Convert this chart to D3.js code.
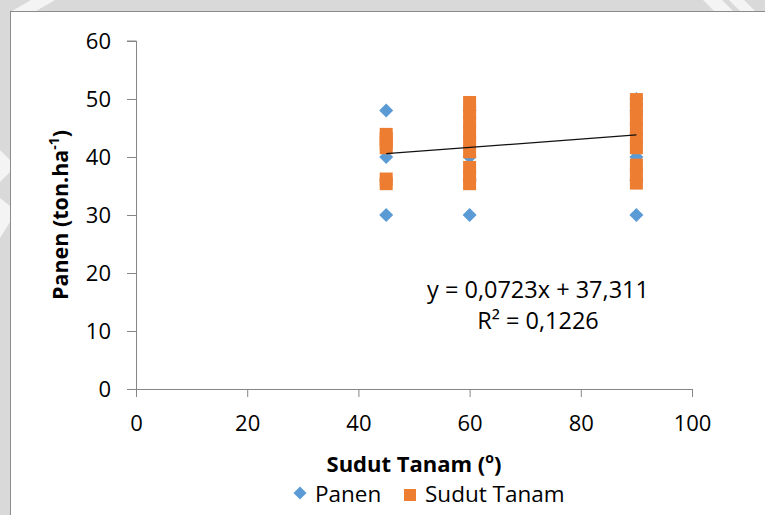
<!DOCTYPE html>
<html>
<head>
<meta charset="utf-8">
<script src="https://cdn.jsdelivr.net/npm/d3@7"></script>
<style>
  body { margin: 0; background: #d9d9d9; }
  text { font-family: "Open Sans", sans-serif; fill: #000; }
</style>
</head>
<body>
<div class="grafico"></div>
<script>
/* Data */
const panenX = [45, 45, 45, 45, 60, 60, 60, 60, 90, 90, 90, 90, 90];
const panenY = [48, 40, 36, 30, 48, 40, 36, 30, 50, 48, 40, 36, 30];

const sudutX = [45, 45, 45, 45, 45, 45,
  60, 60, 60, 60, 60, 60, 60, 60, 60,
  90, 90, 90, 90, 90, 90, 90, 90, 90];
const sudutY = [41.6, 42.4, 43.2, 43.9, 35.4, 36.2,
  40.9, 42.6, 44.3, 46.0, 47.7, 49.4, 35.4, 36.8, 38.2,
  41.6, 43.2, 44.9, 46.5, 48.2, 49.9, 35.5, 37.0, 38.6];

const xTicks = [0, 20, 40, 60, 80, 100];
const yTicks = [0, 10, 20, 30, 40, 50, 60];

const trendSlope = 0.0723;
const trendIntercept = 37.311;
const trendFrom = 45;
const trendTo = 90;
const trendLines = ['y = 0,0723x + 37,311', 'R² = 0,1226'];

const seriesNames = ['Panen', 'Sudut Tanam'];
const colors = ['#5b9bd5', '#ed7d31'];

const w = 765;
const h = 515;

const svg = d3.select('.grafico')
  .append('svg')
  .attr('width', w)
  .attr('height', h)
  .style('display', 'block');

/* grey page with the white watermark stripes */
svg.append('rect').attr('width', w).attr('height', h).attr('fill', '#d9d9d9');
const stripes = [
  [[31, 0], [55, 0], [36, 11], [12, 11]],
  [[0, 150], [10, 160], [10, 172], [0, 182]],
  [[0, 198], [10, 206], [10, 222], [0, 238]],
  [[703, 0], [722, 0], [733, 11], [714, 11]],
  [[729, 0], [744, 0], [755, 11], [740, 11]]
];
svg.selectAll('.stripe')
  .data(stripes)
  .join('polygon')
  .attr('class', 'stripe')
  .attr('points', d => d.join(' '))
  .attr('fill', '#f4f4f4');

/* chart box */
svg.append('rect')
  .attr('x', 10.5)
  .attr('y', 11.5)
  .attr('width', 800)
  .attr('height', 600)
  .attr('fill', '#fff')
  .attr('stroke', '#8c8c8c');

/* scales */
const x = d3.scaleLinear().domain([0, 100]).range([136, 692]);
const y = d3.scaleLinear().domain([0, 60]).range([389, 41]);

/* axes */
const xAxis = svg.append('g')
  .attr('transform', `translate(0,${y(0)})`)
  .call(d3.axisBottom(x).tickValues(xTicks).tickSize(8).tickPadding(18));

const yAxis = svg.append('g')
  .attr('transform', `translate(${x(0)},0)`)
  .call(d3.axisLeft(y).tickValues(yTicks).tickSize(9).tickPadding(16));

[xAxis, yAxis].forEach(a => {
  a.select('.domain').attr('stroke', '#868686');
  a.selectAll('.tick line').attr('stroke', '#868686');
  a.selectAll('.tick text')
    .style('font-family', '"Open Sans", sans-serif')
    .style('font-size', '22px')
    .attr('fill', '#1a1a1a');
});
yAxis.selectAll('.tick text').attr('dy', '0.35em');
yAxis.select('.domain').attr('d', `M-9,${y(60)}H0.5V${y(0)}`);

/* Panen diamonds */
const panen = panenX.map((d, i) => ({x: d, y: panenY[i]}));
svg.append('g')
  .selectAll('path')
  .data(panen)
  .join('path')
  .attr('d', 'M0,-7L7,0L0,7L-7,0Z')
  .attr('transform', d => `translate(${x(d.x)},${y(d.y)})`)
  .attr('fill', colors[0]);

/* Sudut Tanam squares */
const sudut = sudutX.map((d, i) => ({x: d, y: sudutY[i]}));
svg.append('g')
  .selectAll('rect')
  .data(sudut)
  .join('rect')
  .attr('x', d => x(d.x) - 6.5)
  .attr('y', d => y(d.y) - 6.5)
  .attr('width', 13)
  .attr('height', 13)
  .attr('fill', colors[1]);

/* linear trendline */
svg.append('line')
  .attr('x1', x(trendFrom))
  .attr('y1', y(trendSlope * trendFrom + trendIntercept))
  .attr('x2', x(trendTo))
  .attr('y2', y(trendSlope * trendTo + trendIntercept))
  .attr('stroke', '#111')
  .attr('stroke-width', 1.3);

svg.append('g')
  .selectAll('text')
  .data(trendLines)
  .join('text')
  .attr('x', 538)
  .attr('y', (d, i) => 298 + i * 31)
  .attr('text-anchor', 'middle')
  .style('font-size', '23.5px')
  .attr('fill', '#1a1a1a')
  .text(d => d);

/* axis titles */
const xTitle = svg.append('text')
  .attr('x', 414)
  .attr('y', 472)
  .attr('text-anchor', 'middle')
  .style('font-size', '22px')
  .style('font-weight', 'bold');
xTitle.append('tspan').text('Sudut Tanam (');
xTitle.append('tspan').attr('dy', -9).style('font-size', '14px').text('o');
xTitle.append('tspan').attr('dy', 9).text(')');

const yTitle = svg.append('text')
  .attr('transform', 'translate(68,215) rotate(-90)')
  .attr('text-anchor', 'middle')
  .style('font-size', '21.5px')
  .style('font-weight', 'bold');
yTitle.append('tspan').text('Panen (ton.ha');
yTitle.append('tspan').attr('dy', -9).style('font-size', '14px').text('-1');
yTitle.append('tspan').attr('dy', 9).text(')');

/* legend */
const legend = svg.append('g').attr('transform', 'translate(0,493)');
legend.append('path')
  .attr('d', 'M0,-6.5L6.5,0L0,6.5L-6.5,0Z')
  .attr('transform', 'translate(300,0)')
  .attr('fill', colors[0]);
legend.append('rect')
  .attr('x', 404)
  .attr('y', -4)
  .attr('width', 12)
  .attr('height', 12)
  .attr('fill', colors[1]);
legend.selectAll('.legend-text')
  .data(seriesNames)
  .join('text')
  .attr('class', 'legend-text')
  .attr('x', (d, i) => i === 0 ? 315 : 425)
  .attr('y', 9)
  .style('font-size', '22.5px')
  .attr('fill', '#1a1a1a')
  .text(d => d);
</script>
</body>
</html>
